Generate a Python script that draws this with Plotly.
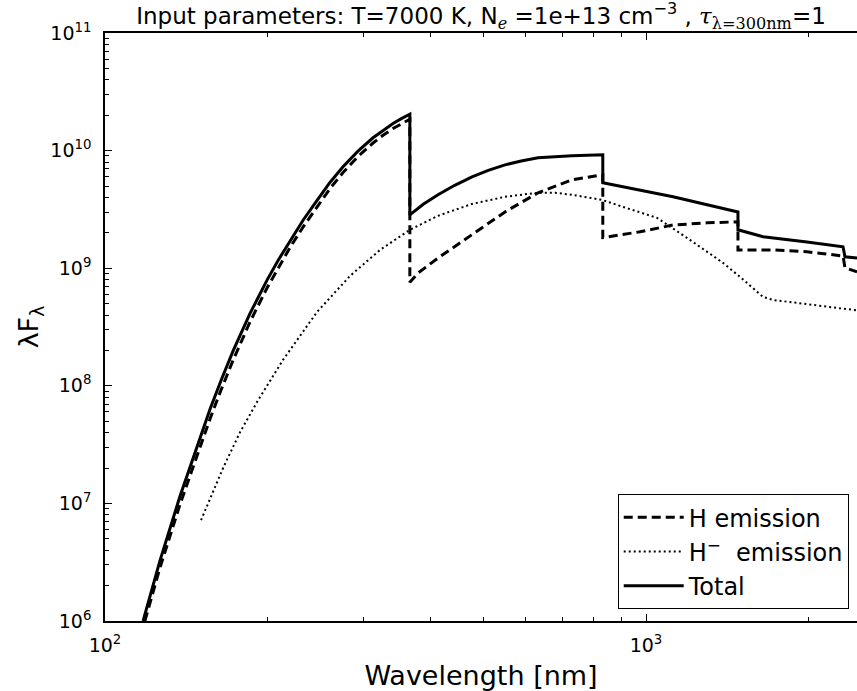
import plotly.graph_objects as go

# ---- data (wavelength in nm, lambda*F_lambda) ----
wl_total = [117.6, 126.4, 137.6, 149.8, 156.4, 164.0, 172.5, 185.4, 199.3, 209.0,
            219.8, 232.5, 246.6, 260.5, 275.4, 293.5, 312.9, 326.5, 340.7, 353.0,
            366.0, 366.0, 388.0, 412.6, 443.0, 476.9, 511.0, 548.8, 588.0, 631.6,
            680.0, 729.7, 780.0, 832.0, 832.0, 975.0, 1122.0, 1297.0, 1479.0, 1479.0,
            1646.0, 1984.0, 2313.0, 2332.0, 2455.0]
f_total = [1.0e6, 3.28e6, 1.15e7, 3.66e7, 6.35e7, 1.12e8, 1.98e8, 4.13e8, 7.92e8, 1.17e9,
           1.72e9, 2.57e9, 3.78e9, 5.36e9, 7.28e9, 9.89e9, 1.285e10, 1.49e10, 1.70e10, 1.87e10,
           2.04e10, 2.84e9, 3.51e9, 4.21e9, 5.07e9, 5.98e9, 6.79e9, 7.57e9, 8.17e9, 8.69e9,
           8.91e9, 9.04e9, 9.14e9, 9.2e9, 5.32e9, 4.63e9, 4.05e9, 3.46e9, 3.01e9, 2.12e9,
           1.85e9, 1.67e9, 1.52e9, 1.25e9, 1.22e9]

wl_h = [118.5, 126.4, 137.6, 149.8, 156.4, 164.0, 172.5, 185.4, 199.3, 209.0,
        219.8, 232.5, 246.6, 260.5, 275.4, 293.5, 312.9, 326.5, 340.7, 353.0,
        366.0, 366.0, 379.0, 412.6, 476.9, 548.8, 631.6, 729.7, 832.0, 832.0,
        975.0, 1122.0, 1297.0, 1479.0, 1479.0, 1717.0, 1984.0, 2313.0, 2332.0, 2455.0]
f_h = [1.0e6, 2.85e6, 9.8e6, 3.05e7, 5.25e7, 9.3e7, 1.65e8, 3.5e8, 6.8e8, 1.0e9,
       1.5e9, 2.25e9, 3.35e9, 4.75e9, 6.5e9, 8.9e9, 1.16e10, 1.35e10, 1.54e10, 1.70e10,
       1.85e10, 7.6e8, 9.1e8, 1.22e9, 1.92e9, 3.01e9, 4.38e9, 5.64e9, 6.22e9, 1.82e9,
       2.04e9, 2.33e9, 2.43e9, 2.48e9, 1.43e9, 1.43e9, 1.38e9, 1.27e9, 1.01e9, 9.3e8]

wl_hminus = [150.5, 165.3, 177.7, 191.0, 213.3, 246.6, 283.8, 322.3, 366.0, 412.6,
             476.9, 548.8, 631.6, 678.8, 729.7, 829.3, 907.0, 1048.0, 1206.0, 1388.0,
             1492.0, 1646.0, 1717.0, 1984.0, 2413.0, 2455.0]
f_hminus = [7.2e6, 2.0e7, 4.04e7, 7.28e7, 1.66e8, 4.25e8, 8.6e8, 1.43e9, 2.12e9, 2.79e9,
            3.52e9, 4.05e9, 4.38e9, 4.38e9, 4.21e9, 3.81e9, 3.32e9, 2.68e9, 1.74e9, 1.11e9,
            8.43e8, 5.70e8, 5.37e8, 4.97e8, 4.42e8, 4.38e8]

x_tickvals = [100, 1000]
x_ticktext = ["10<sup>2</sup>", "10<sup>3</sup>"]
x_minor = [200, 300, 400, 500, 600, 700, 800, 900, 2000]
y_tickvals = [1e6, 1e7, 1e8, 1e9, 1e10, 1e11]
y_ticktext = ["10<sup>6</sup>", "10<sup>7</sup>", "10<sup>8</sup>", "10<sup>9</sup>",
              "10<sup>10</sup>", "10<sup>11</sup>"]
y_minor = [m * 10 ** e for e in range(6, 11) for m in range(2, 10)]

FONT = "DejaVu Sans, Liberation Sans, sans-serif"
SERIF = "DejaVu Serif, Liberation Serif, serif"

fig = go.Figure()
fig.add_trace(go.Scatter(x=wl_h, y=f_h, mode="lines", name="H emission",
                         line=dict(color="black", width=3, dash="9px,5px")))
fig.add_trace(go.Scatter(x=wl_hminus, y=f_hminus, mode="lines", name="H<sup>−</sup>  emission",
                         line=dict(color="black", width=2, dash="2px,3px")))
fig.add_trace(go.Scatter(x=wl_total, y=f_total, mode="lines", name="Total",
                         line=dict(color="black", width=3)))

title_text = ("Input parameters: T=7000 K, N<sub><span style='font-family:" + SERIF +
              "'><i>e</i></span></sub> =1e+13 cm<sup>−3</sup> , "
              "<span style='font-family:" + SERIF + "'><i>τ</i><sub>λ=300nm</sub></span>=1")

fig.update_layout(
    width=857, height=691,
    margin=dict(l=105, r=0, t=33, b=70),
    paper_bgcolor="white", plot_bgcolor="white",
    font=dict(family=FONT, color="black", size=19),
    title=dict(text=title_text, x=0.5, xref="paper", xanchor="center",
               y=1 - 16 / 691, yanchor="middle", font=dict(size=23, family=FONT)),
    showlegend=True,
    legend=dict(x=0.989, y=0.02, xanchor="right", yanchor="bottom",
                bordercolor="black", borderwidth=1, bgcolor="white",
                font=dict(size=24, family=FONT), tracegroupgap=0, itemwidth=60),
)

fig.update_xaxes(
    type="log", range=[2, 3.390],
    showgrid=False, zeroline=False,
    showline=True, linecolor="black", linewidth=1.5, mirror="ticks",
    ticks="inside", ticklen=7, tickwidth=1, tickcolor="black",
    tickvals=x_tickvals, ticktext=x_ticktext,
    tickfont=dict(size=19), ticklabelstandoff=6,
    minor=dict(ticks="inside", ticklen=4, tickwidth=1, tickcolor="black",
               tickvals=x_minor, showgrid=False),
    title=dict(text="Wavelength [nm]", font=dict(size=27), standoff=12),
)
fig.update_yaxes(
    type="log", range=[6, 11],
    showgrid=False, zeroline=False,
    showline=True, linecolor="black", linewidth=1.5, mirror=False,
    ticks="inside", ticklen=7, tickwidth=1, tickcolor="black",
    tickvals=y_tickvals, ticktext=y_ticktext,
    tickfont=dict(size=19), ticklabelstandoff=8,
    minor=dict(ticks="inside", ticklen=4, tickwidth=1, tickcolor="black",
               tickvals=y_minor, showgrid=False),
    title=dict(text="λF<sub>λ</sub>", font=dict(size=27), standoff=4),
)

fig.write_html("out.html", config={"displayModeBar": False})
